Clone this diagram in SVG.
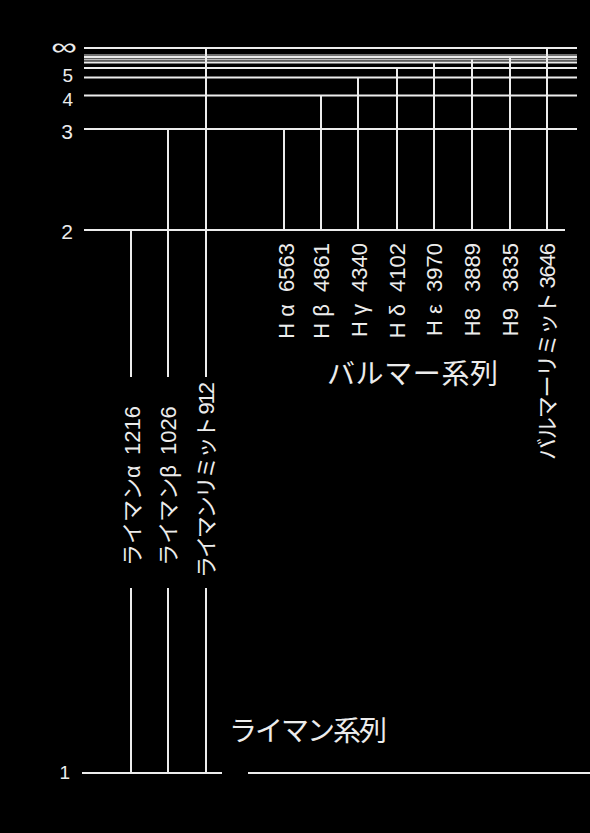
<svg xmlns="http://www.w3.org/2000/svg" width="590" height="833" viewBox="0 0 590 833">
<style>
.lv{stroke:#ececec;stroke-width:2;fill:none}
.tr{stroke:#ececec;stroke-width:2;fill:none}
text{fill:#ececec;font-family:"Liberation Sans","Noto Sans CJK JP",sans-serif}
.num{font-size:21px;text-anchor:end}
.rl{font-size:22px;dominant-baseline:central}
.ser{font-size:28px}
</style>
<rect width="590" height="833" fill="#000"/>
<g id="levels">
<g id="n-inf"><line class="lv" x1="84" y1="48" x2="577" y2="48"/><text class="num" transform="translate(77,55) scale(1.5,1)" style="font-size:24px">∞</text></g>
<g id="n-high">
<line class="lv" x1="84" y1="55" x2="577" y2="55" style="stroke:#999;stroke-width:1.5"/>
<line class="lv" x1="84" y1="57" x2="577" y2="57"/>
<line class="lv" x1="84" y1="59.5" x2="577" y2="59.5" style="stroke:#bbb"/>
<line class="lv" x1="84" y1="62.5" x2="577" y2="62.5"/>
</g>
<g id="n6"><line class="lv" x1="84" y1="68" x2="577" y2="68"/></g>
<g id="n5"><line class="lv" x1="84" y1="77.5" x2="577" y2="77.5"/><text class="num" x="73" y="82" style="font-size:19px">5</text></g>
<g id="n4"><line class="lv" x1="84" y1="95.5" x2="577" y2="95.5"/><text class="num" x="73" y="106" style="font-size:19px">4</text></g>
<g id="n3"><line class="lv" x1="84" y1="129" x2="577" y2="129"/><text class="num" x="73" y="139">3</text></g>
<g id="n2"><line class="lv" x1="84" y1="230" x2="565" y2="230"/><text class="num" x="73" y="239">2</text></g>
<g id="n1"><line class="lv" x1="82" y1="773" x2="222" y2="773"/><line class="lv" x1="248" y1="773" x2="590" y2="773"/><text class="num" x="70" y="779" style="font-size:19px">1</text></g>
</g>
<g id="connectors">
<line class="tr" x1="131" y1="230" x2="131" y2="377"/><line class="tr" x1="131" y1="588" x2="131" y2="773"/>
<line class="tr" x1="168" y1="129" x2="168" y2="377"/><line class="tr" x1="168" y1="588" x2="168" y2="773"/>
<line class="tr" x1="206" y1="48" x2="206" y2="377"/><line class="tr" x1="206" y1="588" x2="206" y2="773"/>
<line class="tr" x1="284" y1="129" x2="284" y2="230"/>
<line class="tr" x1="321" y1="95.5" x2="321" y2="230"/>
<line class="tr" x1="358" y1="77.5" x2="358" y2="230"/>
<line class="tr" x1="397" y1="68" x2="397" y2="230"/>
<line class="tr" x1="434" y1="62.5" x2="434" y2="230"/>
<line class="tr" x1="472" y1="59.5" x2="472" y2="230"/>
<line class="tr" x1="510" y1="57" x2="510" y2="230"/>
<line class="tr" x1="547" y1="48" x2="547" y2="230"/>
</g>
<g id="lyman-labels">
<text class="rl" text-anchor="middle" transform="translate(132,486) rotate(-90)">ライマンα <tspan dx="4">1216</tspan></text>
<text class="rl" text-anchor="middle" transform="translate(168,486) rotate(-90)">ライマンβ <tspan dx="4">1026</tspan></text>
<text class="rl" text-anchor="middle" transform="translate(206,480) rotate(-90)" textLength="196">ライマンリミット 912</text>
</g>
<g id="balmer-labels">
<text class="rl" text-anchor="end" transform="translate(286,243) rotate(-90)">H α <tspan dx="6">6563</tspan></text>
<text class="rl" text-anchor="end" transform="translate(321,243) rotate(-90)">H β <tspan dx="6">4861</tspan></text>
<text class="rl" text-anchor="end" transform="translate(359,243) rotate(-90)">H γ <tspan dx="6">4340</tspan></text>
<text class="rl" text-anchor="end" transform="translate(397,243) rotate(-90)">H δ <tspan dx="6">4102</tspan></text>
<text class="rl" text-anchor="end" transform="translate(434,243) rotate(-90)">H ε <tspan dx="6">3970</tspan></text>
<text class="rl" text-anchor="end" transform="translate(472,243) rotate(-90)">H8 <tspan dx="10">3889</tspan></text>
<text class="rl" text-anchor="end" transform="translate(510,243) rotate(-90)">H9 <tspan dx="10">3835</tspan></text>
<text class="rl" text-anchor="end" transform="translate(547,243) rotate(-90)" textLength="217">バルマーリミット 3646</text>
</g>
<g id="series-labels">
<text class="ser" x="327" y="384" textLength="171">バルマー系列</text>
<text class="ser" x="229" y="741" textLength="158">ライマン系列</text>
</g>
</svg>
